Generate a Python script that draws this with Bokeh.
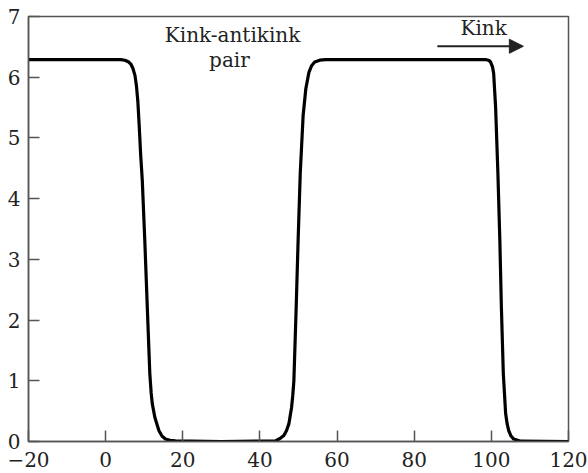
from bokeh.plotting import figure
from bokeh.models import FixedTicker, Range1d, Arrow, NormalHead, ColumnDataSource
from bokeh.core.properties import value
from bokeh.embed import file_html
from bokeh.resources import INLINE

# Field profile
phi_x = [-20, 0, 3.9, 5.0, 6.0, 6.6, 7.1, 7.6, 8.0, 8.35, 8.7, 9.1, 9.5, 10.15, 10.8, 11.45, 11.8, 12.1, 12.75, 13.8, 14.6, 15.5, 16.7, 18.1, 30,
         44.0, 45.2, 46.2, 46.9, 47.5, 48.2, 48.5, 48.8, 49.4, 49.9, 50.45, 51.2, 51.9, 52.7, 53.4, 54.2, 55.5, 57.0, 80,
         98.5, 99.3, 99.8, 100.3, 100.6, 101.1, 101.7, 102.2, 102.6, 103.1, 103.7, 104.1, 104.5, 105.1, 105.8, 107.6, 120]
phi_y = [6.29, 6.29, 6.29, 6.28, 6.25, 6.21, 6.14, 6.03, 5.85, 5.60, 5.20, 4.70, 4.30, 3.31, 2.21, 1.12, 0.80, 0.62, 0.40, 0.18, 0.09, 0.04, 0.02, 0.01, 0.0,
         0.01, 0.05, 0.10, 0.18, 0.29, 0.56, 0.75, 1.00, 2.21, 3.31, 4.41, 5.37, 5.81, 6.08, 6.19, 6.25, 6.28, 6.29, 6.29,
         6.29, 6.28, 6.25, 6.17, 6.06, 5.51, 4.41, 3.31, 2.21, 1.12, 0.46, 0.29, 0.18, 0.09, 0.04, 0.005, 0.0]

x_ticks = [-20, 0, 20, 40, 60, 80, 100, 120]
y_ticks = [0, 1, 2, 3, 4, 5, 6, 7]

label_text = ["Kink-antikink", "pair", "Kink"]
label_x = [32.9, 32.1, 98.0]
label_y = [6.69, 6.28, 6.81]

arrow_x = [86.0, 108.3]
arrow_y = [6.51, 6.51]

FONT = "DejaVu Serif"

p = figure(width=588, height=473, output_backend="svg", toolbar_location=None,
           x_range=Range1d(-20, 120), y_range=Range1d(0, 7),
           min_border_left=28, min_border_right=20, min_border_top=16, min_border_bottom=32)
p.background_fill_color = "white"
p.border_fill_color = "white"
p.outline_line_color = "#555555"
p.outline_line_width = 1.5
p.xgrid.visible = False
p.ygrid.visible = False

for ax in (p.xaxis[0], p.yaxis[0]):
    ax.major_tick_in = 11
    ax.major_tick_out = 0
    ax.minor_tick_in = 0
    ax.minor_tick_out = 0
    ax.axis_line_color = "#555555"
    ax.axis_line_width = 1.5
    ax.major_tick_line_color = "#555555"
    ax.major_tick_line_width = 1.5
    ax.major_label_text_font = FONT
    ax.major_label_text_font_size = "20px"
    ax.major_label_text_color = "#222222"

p.xaxis.ticker = FixedTicker(ticks=x_ticks)
p.yaxis.ticker = FixedTicker(ticks=y_ticks)
p.xaxis.major_label_overrides = {t: (str(t).replace("-", "\u2212")) for t in x_ticks}
p.xaxis.major_label_standoff = 10
p.yaxis.major_label_standoff = 8

p.line(phi_x, phi_y, line_color="black", line_width=3.2, line_join="round")

src = ColumnDataSource(dict(x=label_x, y=label_y, t=label_text))
p.text(x="x", y="y", text="t", source=src, text_font=value(FONT), text_font_size="20px",
       text_align="center", text_baseline="alphabetic", text_color="#222222")

p.add_layout(Arrow(end=NormalHead(size=14, fill_color="#222222", line_color="#222222"),
                   x_start=arrow_x[0], y_start=arrow_y[0], x_end=arrow_x[1], y_end=arrow_y[1],
                   line_width=2, line_color="#222222"))

open("out.html", "w").write(file_html(p, INLINE))
